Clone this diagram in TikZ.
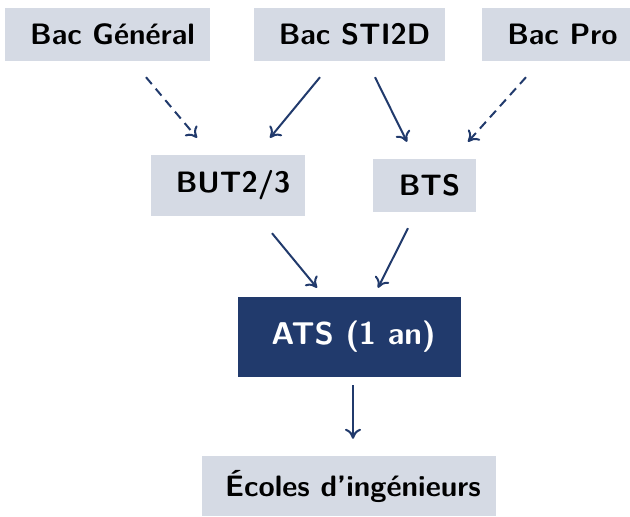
\documentclass[tikz,border=0pt]{standalone}
\usetikzlibrary{arrows.meta,calc}
\definecolor{boxfill}{RGB}{213,218,228}
\definecolor{navy}{RGB}{33,58,108}
\tikzset{
  x=1pt,y=1pt,
  lbox/.style={fill=boxfill,inner sep=0pt,font=\sffamily\bfseries\fontsize{29.5}{33}\selectfont,text=black},
  dbox/.style={fill=navy,inner sep=0pt,font=\sffamily\bfseries\fontsize{31.5}{35}\selectfont,text=white},
  conn/.style={draw=navy,line width=2pt,-{To[length=10pt,width=16pt]}},
  opt/.style={conn,dash pattern=on 9pt off 6pt}
}
\begin{document}
\begin{tikzpicture}
\useasboundingbox (0,0) rectangle (630,-517);
\node[lbox,minimum width=205,minimum height=53] (gen) at (107.5,-34.5) {\hspace*{10pt}Bac Général};
\node[lbox,minimum width=191,minimum height=53] (sti) at (349.5,-34.5) {\hspace*{10pt}Bac STI2D};
\node[lbox,minimum width=151,minimum height=53] (pro) at (557.5,-34.5) {\hspace*{10pt}Bac Pro};
\node[lbox,minimum width=154,minimum height=61] (but) at (228,-185.5) {\hspace*{10pt}BUT2/3};
\node[lbox,minimum width=103,minimum height=53] (bts) at (424.5,-185.5) {\hspace*{10pt}BTS};
\node[dbox,minimum width=223,minimum height=80] (ats) at (349.5,-337) {\hspace*{8pt}ATS (1 an)};
\node[lbox,minimum width=294,minimum height=60] (eco) at (349,-486) {\hspace*{8pt}Écoles d’ingénieurs};
\draw[opt] ($(gen.south)+(38.5,-16)$) -- ($(but.north)+(-31,17)$);
\draw[conn] ($(sti.south)+(-29.5,-16)$) -- ($(but.north)+(42,17)$);
\draw[conn] ($(sti.south)+(25.5,-16)$) -- ($(bts.north)+(-17.5,17)$);
\draw[opt] ($(pro.south)+(-31.5,-16)$) -- ($(bts.north)+(43.5,17)$);
\draw[conn] ($(but.south)+(44,-17)$) -- ($(ats.north)+(-32.5,9)$);
\draw[conn] ($(bts.south)+(-16.5,-16)$) -- ($(ats.north)+(28.5,9)$);
\draw[conn] ($(ats.south)+(3.5,-8)$) -- ($(eco.north)+(4,17)$);
\end{tikzpicture}
\end{document}
